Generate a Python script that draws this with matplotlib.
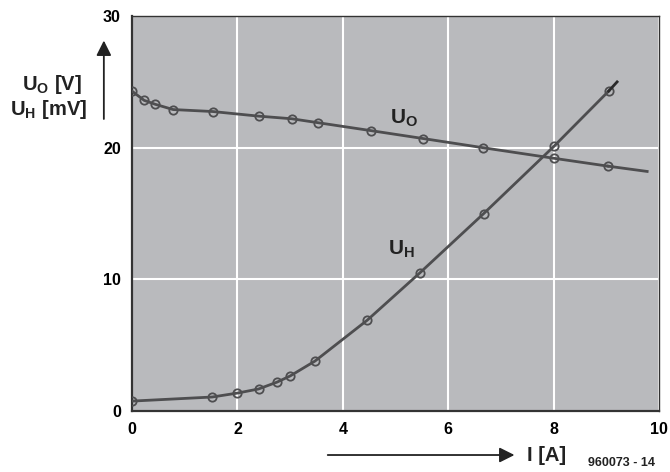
import numpy as np
import matplotlib
matplotlib.use("Agg")
import matplotlib.pyplot as plt

uo_current = [0, 0.23, 0.44, 0.78, 1.53, 2.4, 3.03, 3.53, 4.53, 5.52, 6.66, 8.0, 9.03]
uo_volts = [24.3, 23.6, 23.3, 22.9, 22.75, 22.4, 22.2, 21.9, 21.3, 20.7, 20.0, 19.2, 18.6]
uo_tail = ([9.03, 9.77], [18.6, 18.2])

uh_current = [0, 1.52, 2.0, 2.4, 2.75, 3.0, 3.47, 4.46, 5.46, 6.67, 8.0, 9.04]
uh_mvolts = [0.76, 1.07, 1.37, 1.68, 2.2, 2.67, 3.8, 6.9, 10.5, 15.0, 20.1, 24.3]
uh_tail = ([9.04, 9.2], [24.3, 25.0])

x_ticks = [0, 2, 4, 6, 8, 10]
y_ticks = [0, 10, 20, 30]

plt.rcParams['font.family'] = ['Liberation Sans', 'DejaVu Sans']
plt.rcParams['mathtext.fontset'] = 'custom'
plt.rcParams['mathtext.rm'] = 'Liberation Sans:bold'
plt.rcParams['mathtext.bf'] = 'Liberation Sans:bold'
plt.rcParams['mathtext.it'] = 'Liberation Sans:bold'

fig = plt.figure(figsize=(6.7, 4.72), dpi=100)
ax = fig.add_axes([0.197, 0.129, 0.787, 0.837])
ax.set_facecolor('#b9babd')

line_col = '#4e4e50'
txt_col = '#222222'
mk = dict(marker='o', markersize=6, markerfacecolor='none',
          markeredgecolor=line_col, markeredgewidth=1.3)

ax.plot(uo_current, uo_volts, color=line_col, lw=2, **mk, zorder=3)
ax.plot(*uo_tail, color=line_col, lw=2, zorder=3)
ax.plot(uh_current, uh_mvolts, color=line_col, lw=2, **mk, zorder=3)
ax.plot(*uh_tail, color='#2a2a2a', lw=2, zorder=3)

ax.set_xlim(0, 10)
ax.set_ylim(0, 30)
ax.set_xticks(x_ticks)
ax.set_yticks(y_ticks)
ax.grid(True, color='white', lw=1.5, zorder=1)
ax.set_axisbelow(True)
ax.tick_params(length=0, labelsize=11.5, pad=8)
for lab in ax.get_xticklabels() + ax.get_yticklabels():
    lab.set_fontweight('bold')
for s in ax.spines.values():
    s.set_color('#333333')
    s.set_linewidth(1.0)
ax.spines['left'].set_linewidth(1.6)
ax.spines['bottom'].set_linewidth(1.6)

# curve labels
ax.text(4.9, 21.8, r'$\mathbf{U_O}$', fontsize=15, color=txt_col)
ax.text(4.86, 11.9, r'$\mathbf{U_H}$', fontsize=15, color=txt_col)

# axis labels with arrows
fig.text(0.078, 0.822, r'$\mathbf{U_O\ [V]}$', fontsize=14.5, ha='center', va='center', color=txt_col)
fig.text(0.072, 0.767, r'$\mathbf{U_H\ [mV]}$', fontsize=14.5, ha='center', va='center', color=txt_col)
fig.patches.append(matplotlib.patches.FancyArrowPatch(
    (0.155, 0.742), (0.155, 0.92), transform=fig.transFigure,
    arrowstyle='-|>,head_length=9,head_width=4.5', lw=1.3, color=txt_col, mutation_scale=1))
fig.patches.append(matplotlib.patches.FancyArrowPatch(
    (0.485, 0.036), (0.772, 0.036), transform=fig.transFigure,
    arrowstyle='-|>,head_length=9,head_width=4.5', lw=1.3, color=txt_col, mutation_scale=1))
fig.text(0.787, 0.036, 'I [A]', fontsize=14.5, fontweight='bold', ha='left', va='center', color=txt_col)
fig.text(0.877, 0.019, '960073 - 14', fontsize=9, fontweight='bold', ha='left', va='center', color=txt_col)

fig.savefig('out.png', dpi=100)
